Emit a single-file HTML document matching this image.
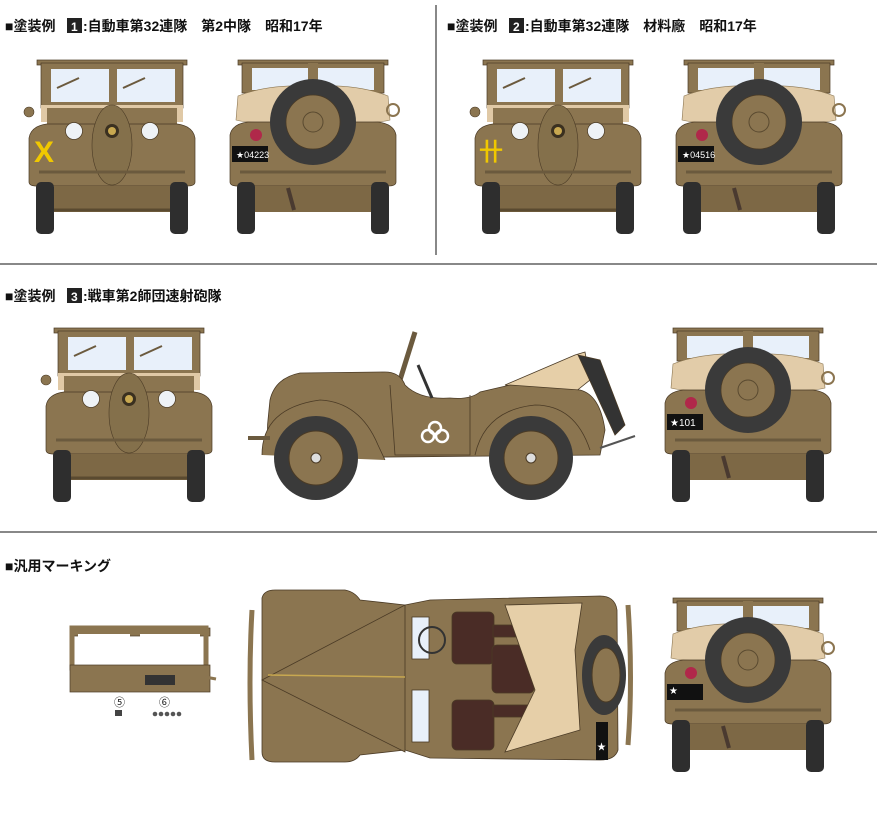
<!DOCTYPE html>
<html><head><meta charset="utf-8"><style>
body{margin:0;background:#fff;width:877px;height:828px;overflow:hidden;font-family:"Liberation Sans","Noto Sans CJK JP",sans-serif}
svg{position:absolute;left:0;top:0}
</style></head><body>
<svg width="877" height="828" viewBox="0 0 877 828" xmlns="http://www.w3.org/2000/svg">
<defs>
<g id="front">
 <rect x="10" y="0" width="150" height="5" fill="#8b7550" stroke="#4a3a25" stroke-width=".7"/>
 <rect x="14" y="3" width="142" height="45" fill="#8b7550" stroke="#4a3a25" stroke-width=".7"/>
 <rect x="24" y="9" width="58" height="33" fill="#e8f0fa"/>
 <rect x="90" y="9" width="58" height="33" fill="#e8f0fa"/>
 <line x1="30" y1="28" x2="52" y2="18" stroke="#6b5a3e" stroke-width="2"/>
 <line x1="96" y1="28" x2="118" y2="18" stroke="#6b5a3e" stroke-width="2"/>
 <path d="M14 45 L14 62 L156 62 L156 45 Z" fill="#e0c9a6"/>
 <path d="M20 48 H150 V66 H20Z" fill="#8b7550"/>
 <path d="M2 78 Q4 66 20 64 L150 64 Q166 66 168 78 L168 122 Q168 126 160 126 L10 126 Q2 126 2 122Z" fill="#8b7550" stroke="#4a3a25" stroke-width=".7"/>
 <ellipse cx="85" cy="85" rx="20" ry="40" fill="#84704b" stroke="#4a3a25" stroke-width=".6"/>
 <circle cx="85" cy="71" r="7" fill="#3a3020"/><circle cx="85" cy="71" r="4" fill="#c8a850"/>
 <circle cx="47" cy="71" r="8.5" fill="#eef2f6" stroke="#4a3a25" stroke-width=".7"/>
 <circle cx="123" cy="71" r="8.5" fill="#eef2f6" stroke="#4a3a25" stroke-width=".7"/>
 <line x1="12" y1="112" x2="158" y2="112" stroke="#6b5a3e" stroke-width="3"/>
 <rect x="9" y="122" width="18" height="52" rx="5" fill="#2e2e2e"/>
 <rect x="143" y="122" width="18" height="52" rx="5" fill="#2e2e2e"/>
 <rect x="27" y="126" width="116" height="26" fill="#7d6845"/>
 <line x1="27" y1="150" x2="143" y2="150" stroke="#5a4a30" stroke-width="3"/>
 <circle cx="2" cy="52" r="5" fill="#8b7550" stroke="#4a3a25" stroke-width=".6"/>
</g>
<g id="rear">
 <rect x="10" y="0" width="150" height="5" fill="#8b7550" stroke="#4a3a25" stroke-width=".7"/>
 <rect x="14" y="3" width="142" height="30" fill="#8b7550" stroke="#4a3a25" stroke-width=".7"/>
 <rect x="24" y="8" width="122" height="22" fill="#e8f0fa"/>
 <rect x="80" y="3" width="10" height="30" fill="#8b7550"/>
 <path d="M10 36 Q40 24 85 26 Q130 24 160 36 L162 60 Q150 64 85 62 Q20 64 8 60Z" fill="#e2cca9" stroke="#8b7550" stroke-width=".6"/>
 <circle cx="165" cy="50" r="6" fill="none" stroke="#8b7550" stroke-width="2"/>
 <path d="M2 75 Q4 64 20 62 L150 62 Q166 64 168 75 L168 122 Q168 126 160 126 L10 126 Q2 126 2 122Z" fill="#8b7550" stroke="#4a3a25" stroke-width=".7"/>
 <circle cx="85" cy="62" r="43" fill="#3a3a3a"/>
 <circle cx="85" cy="62" r="27" fill="#8b7550" stroke="#4a3a25" stroke-width=".7"/>
 <circle cx="85" cy="62" r="10" fill="none" stroke="#5a4a30" stroke-width="1"/>
 <circle cx="28" cy="75" r="6" fill="#b0284a"/>
 <rect x="4" y="86" width="36" height="16" fill="#111"/>
 <rect x="9" y="122" width="18" height="52" rx="5" fill="#2e2e2e"/>
 <rect x="143" y="122" width="18" height="52" rx="5" fill="#2e2e2e"/>
 <rect x="27" y="126" width="116" height="26" fill="#7d6845"/>
 <line x1="12" y1="112" x2="158" y2="112" stroke="#6b5a3e" stroke-width="3"/>
 <line x1="60" y1="128" x2="66" y2="150" stroke="#4a3a30" stroke-width="4"/>
</g>
</defs>

<line x1="436" y1="5" x2="436" y2="255" stroke="#888" stroke-width="2"/>
<line x1="0" y1="264" x2="877" y2="264" stroke="#888" stroke-width="2"/>
<line x1="0" y1="532" x2="877" y2="532" stroke="#888" stroke-width="2"/>

<g font-family="Liberation Sans, Noto Sans CJK JP, sans-serif" font-size="14" font-weight="bold" fill="#111">
<text x="5" y="31">■塗装例</text>
<rect x="67" y="18" width="15" height="15" fill="#222"/><text x="71" y="31" fill="#fff" font-size="12">1</text>
<text x="83" y="31">:自動車第32連隊　第2中隊　昭和17年</text>
<text x="447" y="31">■塗装例</text>
<rect x="509" y="18" width="15" height="15" fill="#222"/><text x="513" y="31" fill="#fff" font-size="12">2</text>
<text x="525" y="31">:自動車第32連隊　材料廠　昭和17年</text>
<text x="5" y="301">■塗装例</text>
<rect x="67" y="288" width="15" height="15" fill="#222"/><text x="71" y="301" fill="#fff" font-size="12">3</text>
<text x="83" y="301">:戦車第2師団速射砲隊</text>
<text x="5" y="571">■汎用マーキング</text>
</g>

<use href="#front" x="27" y="60"/>
<text x="34" y="162" font-size="30" font-weight="bold" fill="#f0c800" font-family="Liberation Sans, sans-serif">X</text>
<use href="#rear" x="228" y="60"/>
<text x="236" y="158" font-size="9" fill="#fff" font-family="Liberation Sans, sans-serif">★04223</text>
<use href="#front" x="473" y="60"/>
<text x="479" y="160" font-size="24" font-weight="bold" fill="#f0c800" font-family="Liberation Sans, sans-serif">卄</text>
<use href="#rear" x="674" y="60"/>
<text x="682" y="158" font-size="9" fill="#fff" font-family="Liberation Sans, sans-serif">★04516</text>

<use href="#front" x="44" y="328"/>
<use href="#rear" x="663" y="328"/>
<text x="670" y="426" font-size="10" fill="#fff" font-family="Liberation Sans, sans-serif">★101</text>

<g stroke="#4a3a25" stroke-width=".8">
 <line x1="400" y1="380" x2="415" y2="332" stroke="#6b5a3e" stroke-width="5"/>
 <path d="M505 385 L575 355 L585 352 L590 380 L575 392Z" fill="#e6cfa8"/>
 <path d="M578 355 L600 360 L625 425 L615 435Z" fill="#333"/>
 <path d="M270 400 Q275 378 300 373 L385 372 Q400 372 405 385 Q420 400 450 398 Q470 400 480 392 L510 385 L580 390 Q600 395 605 430 L600 455 L280 458 Q265 445 268 420Z" fill="#8b7550"/>
 <path d="M262 455 Q262 408 320 400 Q360 402 378 445 L385 460" fill="#8b7550"/>
 <path d="M475 455 Q485 410 535 405 Q575 405 590 450" fill="#8b7550"/>
 <path d="M390 385 L395 455 L470 455 L470 395" fill="none"/>
</g>
<line x1="418" y1="365" x2="432" y2="398" stroke="#333" stroke-width="3"/>
<line x1="248" y1="438" x2="270" y2="438" stroke="#6b5a3e" stroke-width="4"/>
<line x1="600" y1="448" x2="635" y2="436" stroke="#555" stroke-width="2"/>
<circle cx="435" cy="428" r="6" fill="none" stroke="#fff" stroke-width="2.5"/>
<circle cx="428" cy="436" r="6" fill="none" stroke="#fff" stroke-width="2.5"/>
<circle cx="442" cy="436" r="6" fill="none" stroke="#fff" stroke-width="2.5"/>
<circle cx="316" cy="458" r="42" fill="#3a3a3a"/><circle cx="316" cy="458" r="27" fill="#8b7550" stroke="#4a3a25"/><circle cx="316" cy="458" r="5" fill="#ddd" stroke="#4a3a25"/>
<circle cx="531" cy="458" r="42" fill="#3a3a3a"/><circle cx="531" cy="458" r="27" fill="#8b7550" stroke="#4a3a25"/><circle cx="531" cy="458" r="5" fill="#ddd" stroke="#4a3a25"/>

<rect x="70" y="628" width="140" height="8" fill="#8b7550" stroke="#4a3a25" stroke-width=".7"/>
<rect x="72" y="628" width="134" height="40" fill="none" stroke="#8b7550" stroke-width="5"/>
<rect x="78" y="634" width="52" height="30" fill="#fff"/>
<rect x="140" y="634" width="60" height="30" fill="#fff"/>
<rect x="70" y="665" width="140" height="27" fill="#8b7550" stroke="#4a3a25" stroke-width=".7"/>
<rect x="145" y="675" width="30" height="10" fill="#333"/>
<line x1="205" y1="677" x2="216" y2="679" stroke="#8b7550" stroke-width="3"/>
<text x="114" y="706" font-size="11" fill="#111">⑤</text>
<rect x="115" y="710" width="7" height="6" fill="#444"/>
<text x="159" y="706" font-size="11" fill="#111">⑥</text>
<g fill="#555"><circle cx="155" cy="714" r="2.3"/><circle cx="161" cy="714" r="2.3"/><circle cx="167" cy="714" r="2.3"/><circle cx="173" cy="714" r="2.3"/><circle cx="179" cy="714" r="2.3"/></g>

<g stroke="#4a3a25" stroke-width=".8">
 <path d="M262 598 Q264 590 275 590 L345 590 Q355 592 360 600 L405 605 L430 600 L600 596 Q615 596 617 610 L618 750 Q615 760 600 760 L430 758 L405 750 L360 755 Q355 762 345 762 L275 762 Q262 762 262 752Z" fill="#8b7550"/>
 <path d="M262 680 L405 605 L405 752Z" fill="#8b7550"/>
 <rect x="412" y="617" width="17" height="42" fill="#e8f0fa"/>
 <rect x="412" y="690" width="17" height="52" fill="#e8f0fa"/>
 <rect x="452" y="612" width="42" height="52" rx="5" fill="#4a2c26"/>
 <rect x="452" y="700" width="42" height="50" rx="5" fill="#4a2c26"/>
 <rect x="492" y="645" width="42" height="48" rx="5" fill="#4a2c26"/>
 <rect x="493" y="625" width="40" height="12" fill="#4a2c26"/>
 <rect x="493" y="705" width="40" height="12" fill="#4a2c26"/>
 <path d="M505 605 L582 603 L575 650 L580 730 L505 752 L535 690 Z" fill="#e6cfa8"/>
 <circle cx="432" cy="640" r="13" fill="none" stroke="#333" stroke-width="2"/>
</g>
<ellipse cx="604" cy="675" rx="22" ry="40" fill="#3a3a3a"/>
<ellipse cx="606" cy="675" rx="14" ry="27" fill="#8b7550" stroke="#4a3a25"/>
<path d="M252 610 Q248 680 252 760" fill="none" stroke="#8b7550" stroke-width="5"/>
<path d="M628 605 Q633 680 628 745" fill="none" stroke="#8b7550" stroke-width="5"/>
<rect x="596" y="722" width="12" height="38" fill="#111"/>
<text x="597" y="750" font-size="9" fill="#fff">★</text>
<line x1="268" y1="675" x2="405" y2="677" stroke="#c8a850" stroke-width="1.5"/>

<use href="#rear" x="663" y="598"/>
<text x="669" y="694" font-size="10" fill="#fff" font-family="Liberation Sans, sans-serif">★</text>
</svg>
</body></html>
